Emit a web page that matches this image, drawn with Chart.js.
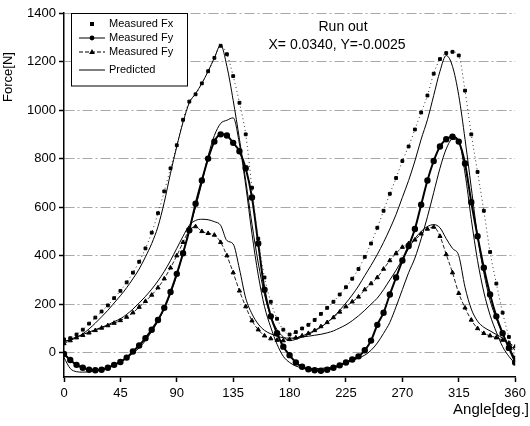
<!DOCTYPE html>
<html>
<head>
<meta charset="utf-8">
<script src="https://cdn.jsdelivr.net/npm/chart.js@4/dist/chart.umd.min.js"></script>
<style>
  body { margin: 0; background: #fff; }
  canvas { display: block; }
</style>
</head>
<body>
<canvas id="chart" width="530" height="426"></canvas>
<script>
// angle positions (deg)
const angles = [0,5,10,15,20,25,30,35,40,45,50,55,60,65,70,75,80,85,90,95,100,105,110,115,120,125,130,135,140,145,150,155,160,165,170,175,180,
  185,190,195,200,205,210,215,220,225,230,235,240,245,250,255,260,265,270,275,280,285,290,295,300,305,310,315,320,325,330,335,340,345,350,355,360];

// Measured Fx (squares)
const measuredFx = [55,60,75,95,120,145,170,195,225,255,290,330,375,430,495,575,665,760,855,960,1035,1065,1110,1160,1215,1265,1230,1140,1030,900,680,470,310,210,140,95,75,
  85,100,115,135,160,185,210,240,270,305,345,395,450,515,585,655,720,790,850,920,990,1060,1150,1210,1235,1240,1225,1080,900,745,585,415,285,165,65,-20];

// Measured Fy (circles)
const measuredFy = [-5,-30,-50,-62,-70,-72,-70,-62,-50,-38,-20,5,30,60,95,135,185,250,325,410,505,614,710,800,870,900,895,865,830,760,640,450,260,150,80,25,-10,
  -40,-58,-68,-72,-74,-70,-62,-52,-40,-28,-15,10,50,115,165,240,310,380,440,510,610,710,790,850,880,890,870,780,620,480,350,240,150,80,20,-40];

// Measured Fy (triangles)
const measuredFy2 = [38,50,62,72,82,92,102,112,122,133,147,165,188,212,238,268,305,350,400,455,505,520,500,492,485,455,400,330,255,190,132,95,70,58,52,50,55,
  62,70,80,92,108,125,145,168,190,210,230,260,285,310,345,380,410,435,450,465,490,510,518,480,405,330,245,185,135,100,80,70,62,52,40,25];

// Predicted curves
const predictedFx = [48,52,62,78,98,122,148,175,205,235,268,305,345,395,450,520,620,740,850,950,1030,1068,1110,1160,1215,1268,1180,1040,880,710,530,370,240,150,95,65,50,
  55,65,75,90,105,125,148,175,205,238,275,318,360,405,455,510,570,640,710,790,880,960,1060,1160,1225,1180,1060,880,680,480,330,215,140,80,25,-25];

const predictedFy = [-20,-65,-78,-80,-78,-74,-68,-60,-50,-38,-22,-2,20,50,88,130,182,245,320,410,510,600,700,810,895,945,958,968,860,690,490,320,190,105,35,-15,-40,
  -55,-62,-65,-66,-65,-62,-58,-50,-42,-33,-22,-10,10,40,80,125,190,260,330,390,470,560,660,760,840,880,870,740,550,380,250,155,85,25,-15,-45];

const predictedFy2 = [45,55,65,75,85,95,105,115,128,140,158,180,205,232,262,296,335,380,430,480,525,545,550,548,540,525,462,448,345,225,160,118,92,78,68,62,60,
  62,65,68,72,76,82,90,102,115,132,152,175,200,225,260,300,340,385,430,470,500,520,528,515,470,430,400,270,180,130,105,90,75,60,35,10];

const yTicks = [0,200,400,600,800,1000,1200,1400];
const legendNames = ['Measured Fx','Measured Fy','Measured Fy','Predicted'];

function pts(vals) {
  return angles.map((a, i) => ({x: a, y: vals[i]}));
}

const FONT = '"Liberation Sans", Arial, sans-serif';

function predictedSet(vals) {
  return {
    data: pts(vals), borderColor: '#000', borderWidth: 1, pointRadius: 0,
    cubicInterpolationMode: 'monotone', fill: false
  };
}

const datasets = [
  predictedSet(predictedFx),
  predictedSet(predictedFy),
  predictedSet(predictedFy2),
  {
    data: pts(measuredFx), borderColor: '#333', borderWidth: 1, borderDash: [1, 3],
    pointStyle: 'rect', pointRadius: 2, pointBackgroundColor: '#000', pointBorderColor: '#000',
    cubicInterpolationMode: 'monotone'
  },
  {
    data: pts(measuredFy), borderColor: '#000', borderWidth: 2,
    pointStyle: 'circle', pointRadius: 2.2, pointBackgroundColor: '#000', pointBorderColor: '#000',
    cubicInterpolationMode: 'monotone'
  },
  {
    data: pts(measuredFy2), borderColor: '#222', borderWidth: 1, borderDash: [4, 2],
    pointStyle: 'triangle', pointRadius: 2.4, pointBackgroundColor: '#000', pointBorderColor: '#000',
    cubicInterpolationMode: 'monotone'
  }
];

function marker(ctx, style, x, y, r) {
  ctx.beginPath();
  if (style === 'rect') {
    ctx.rect(x - r, y - r, 2 * r, 2 * r);
  } else if (style === 'circle') {
    ctx.arc(x, y, r, 0, Math.PI * 2);
  } else if (style === 'triangle') {
    ctx.moveTo(x, y - r * 1.2);
    ctx.lineTo(x + r * 1.1, y + r * 0.8);
    ctx.lineTo(x - r * 1.1, y + r * 0.8);
    ctx.closePath();
  }
  ctx.fill();
}

// legend box, annotation and axis titles
const extras = {
  id: 'extras',
  afterDraw(chart) {
    const ctx = chart.ctx;
    ctx.save();
    // legend
    ctx.fillStyle = '#fff';
    ctx.fillRect(71, 13.5, 116, 72.5);
    ctx.strokeStyle = '#000';
    ctx.lineWidth = 1;
    ctx.strokeRect(71.5, 13.5, 116, 72.5);
    const rows = [24, 38, 52, 70];
    const lx1 = 79, lx2 = 105, mx = 92;
    ctx.fillStyle = '#000';
    // Fx: marker only
    marker(ctx, 'rect', mx, rows[0], 2);
    // Fy circles
    ctx.beginPath(); ctx.moveTo(lx1, rows[1]); ctx.lineTo(lx2, rows[1]); ctx.stroke();
    marker(ctx, 'circle', mx, rows[1], 2.4);
    // Fy triangles, dashed line
    ctx.setLineDash([4, 2]);
    ctx.beginPath(); ctx.moveTo(lx1, rows[2]); ctx.lineTo(lx2, rows[2]); ctx.stroke();
    ctx.setLineDash([]);
    marker(ctx, 'triangle', mx, rows[2], 2.6);
    // predicted
    ctx.beginPath(); ctx.moveTo(lx1, rows[3]); ctx.lineTo(lx2, rows[3]); ctx.stroke();
    ctx.font = '11px ' + FONT;
    ctx.textBaseline = 'middle';
    ctx.textAlign = 'left';
    legendNames.forEach((n, i) => ctx.fillText(n, 109, rows[i]));

    // annotation
    ctx.font = '14px ' + FONT;
    ctx.textAlign = 'center';
    ctx.fillText('Run out', 343, 27);
    ctx.fillText('X= 0.0340, Y=-0.0025', 337, 45);

    // axis titles
    ctx.font = '15px ' + FONT;
    ctx.textAlign = 'right';
    ctx.fillText('Angle[deg.]', 529, 410);
    ctx.translate(8, 77);
    ctx.rotate(-Math.PI / 2);
    ctx.textAlign = 'center';
    ctx.font = '13px ' + FONT;
    ctx.fillText('Force[N]', 0, 0);
    ctx.restore();
  }
};

new Chart(document.getElementById('chart'), {
  type: 'line',
  data: { datasets: datasets },
  options: {
    responsive: false,
    animation: false,
    devicePixelRatio: 1,
    layout: { padding: { top: 13, right: 11, left: 0, bottom: 0 } },
    plugins: { legend: { display: false }, tooltip: { enabled: false } },
    scales: {
      x: {
        type: 'linear', min: 0, max: 360,
        ticks: { stepSize: 45, color: '#000', font: { family: FONT, size: 13 }, padding: 4, maxRotation: 0,
          callback: v => String(v) },
        grid: { drawOnChartArea: false, tickLength: 5, tickColor: '#000', tickWidth: 1.5 },
        border: { display: true, color: '#000', width: 1.5 },
        afterFit(scale) { scale.height = 49; }
      },
      y: {
        min: -100, max: 1400,
        afterBuildTicks(scale) { scale.ticks = yTicks.map(v => ({value: v})); },
        ticks: { color: '#000', font: { family: FONT, size: 13 }, padding: 3, callback: v => String(v) },
        grid: { color: '#a8a8a8', lineWidth: 1, tickLength: 5, tickColor: '#000', tickWidth: 1.5, tickBorderDash: [] },
        border: { display: true, color: '#000', width: 1.5, dash: [10, 3, 2, 3] },
        afterFit(scale) { scale.width = 64; }
      }
    }
  },
  plugins: [extras]
});
</script>
</body>
</html>
